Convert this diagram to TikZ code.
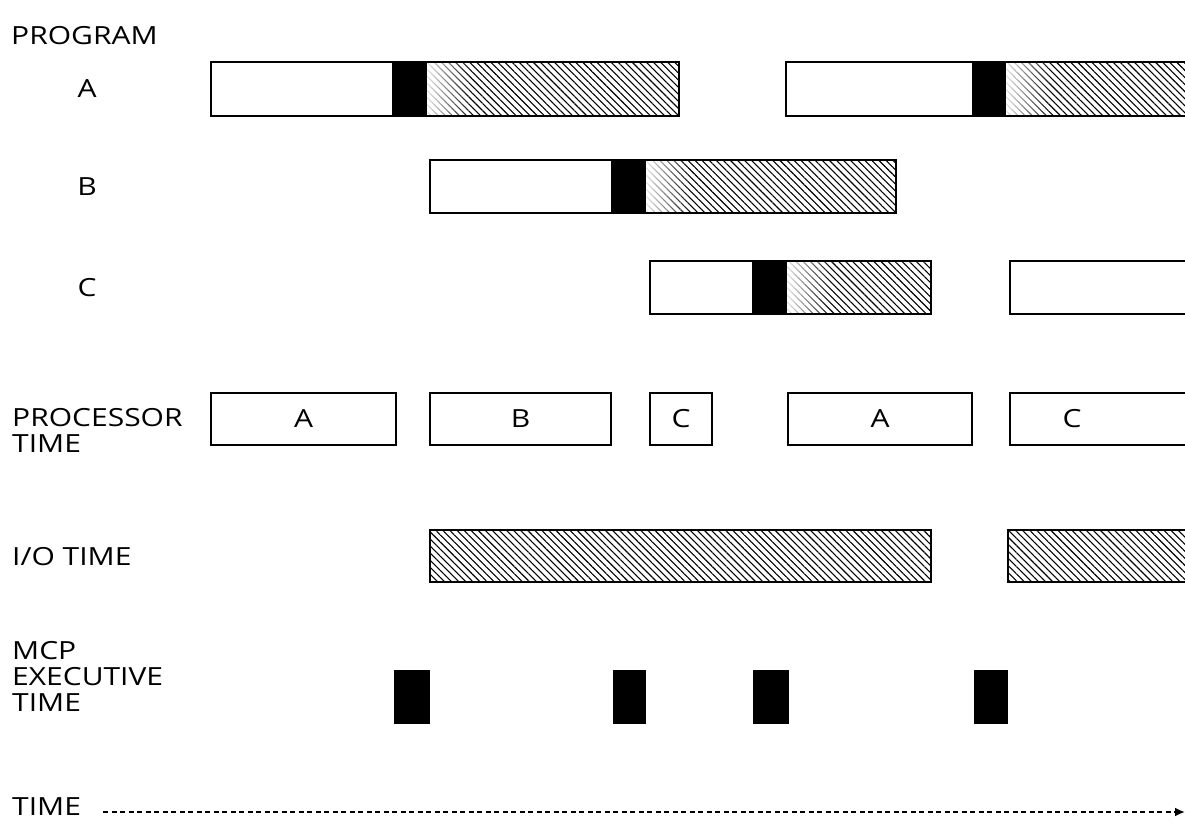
\documentclass[tikz,border=0pt]{standalone}
\usepackage{fontspec}
\setmainfont{Open Sans}[FakeStretch=1.2]
\usetikzlibrary{patterns.meta,fadings,arrows.meta}
\tikzfading[name=fadeR, left color=transparent!10, right color=transparent!100]
\begin{document}
\begin{tikzpicture}[x=1pt,y=-1pt,
  txt/.style={font=\fontsize{25}{25}\selectfont},
  lbl/.style={txt, inner sep=0pt, anchor=base west},
  midlbl/.style={txt, inner sep=0pt},
  box/.style={draw, line width=1.9pt},
  pbox/.style={box, outer sep=0pt, anchor=north west, minimum height=52pt, txt},
  hatch/.style={pattern={Lines[angle=-45,distance=5pt,line width=1.1pt]}},
  fadeover/.style={white, path fading=fadeR},
  mcpblock/.style={fill=black},
  timearrow/.style={dash pattern=on 5pt off 3.5pt, line width=2pt, -{Latex[length=10pt,width=9pt]}}]
\useasboundingbox (0,0) rectangle (1185,823);
\clip (0,0) rectangle (1185,823);
% labels
\node[lbl] (lprog) at (11,44) {PROGRAM};
\node[midlbl] (lA) at (87,89) {A};
\node[midlbl] (lB) at (87,187) {B};
\node[midlbl] (lC) at (87,288) {C};
\node[lbl] (lproc) at (12,426) {PROCESSOR};
\node[lbl] (lproc2) at (12,452) {TIME};
\node[midlbl, anchor=west] (lio) at (12,557) {I/O TIME};
\node[lbl] (lmcp) at (12,659) {MCP};
\node[lbl] (lmcp2) at (12,685) {EXECUTIVE};
\node[lbl] (lmcp3) at (12,711) {TIME};
\node[lbl] (ltime) at (12,815) {TIME};
% program A, first run
\fill[hatch] (427,62) rectangle (679,116);
\fill[fadeover] (427,62) rectangle (472,116);
\fill[black] (392,62) rectangle (427,116);
\draw[box] (211,62) rectangle (679,116);
% program A, second run
\fill[hatch] (1006,62) rectangle (1195,116);
\fill[fadeover] (1006,62) rectangle (1051,116);
\fill[black] (972,62) rectangle (1006,116);
\draw[box] (786,62) rectangle (1195,116);
% program B
\fill[hatch] (646,160) rectangle (896,213);
\fill[fadeover] (646,160) rectangle (691,213);
\fill[black] (611,160) rectangle (646,213);
\draw[box] (430,160) rectangle (896,213);
% program C
\fill[hatch] (787,261) rectangle (931,314);
\fill[fadeover] (787,261) rectangle (832,314);
\fill[black] (752,261) rectangle (787,314);
\draw[box] (650,261) rectangle (931,314);
\draw[box] (1010,261) rectangle (1195,314);
% processor time
\node[pbox, minimum width=185pt] (pA1) at (211,393) {A};
\node[pbox, minimum width=181pt] (pB) at (430,393) {B};
\node[pbox, minimum width=62pt] (pC1) at (650,393) {C};
\node[pbox, minimum width=184pt] (pA2) at (788,393) {A};
\draw[box] (1010,393) rectangle (1195,445);
\node[txt] (pC2) at (1072,419) {C};
% I/O time
\draw[box, hatch] (430,530) rectangle (931,582);
\draw[box, hatch] (1008,530) rectangle (1195,582);
% MCP executive time
\fill[mcpblock] (394,670) rectangle (430,724);
\fill[mcpblock] (613,670) rectangle (646,724);
\fill[mcpblock] (753,670) rectangle (789,724);
\fill[mcpblock] (974,670) rectangle (1008,724);
% time axis
\coordinate (tstart) at (103,812);
\coordinate (tend) at (1185,812);
\draw[timearrow] (tstart) -- (tend);
\end{tikzpicture}
\end{document}
